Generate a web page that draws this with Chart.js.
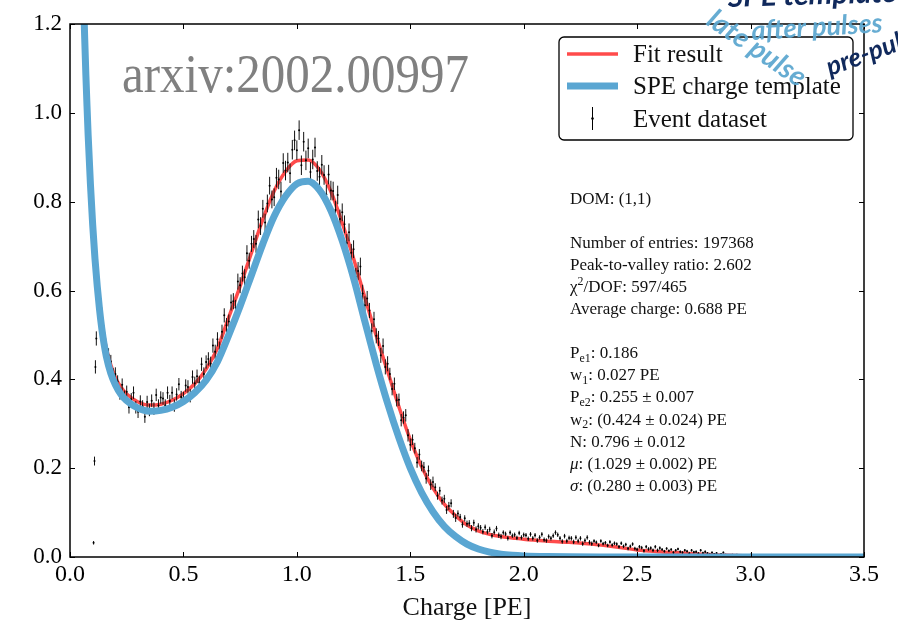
<!DOCTYPE html>
<html>

<head>
  <title>SPE charge fit, DOM (1,1)</title>
  <meta charset="UTF-8">
  <script src="https://cdn.jsdelivr.net/npm/chart.js@4.4.0/dist/chart.umd.min.js"></script>
  <style>
    body { margin: 0; background: #fff; }
  </style>
</head>

<body>
  <canvas id="myChart" width="898" height="627"></canvas>
  <script>
    // SPE charge template (blue)
    var templateCharge = [0.060, 0.065, 0.070, 0.075, 0.080, 0.090, 0.100, 0.110, 0.120, 0.130, 0.140, 0.150, 0.160, 0.180, 0.200, 0.225, 0.250,
      0.30, 0.35, 0.40, 0.45, 0.50, 0.55, 0.60, 0.65, 0.70, 0.75, 0.80, 0.85, 0.90, 0.95, 1.00, 1.05, 1.10, 1.15, 1.20, 1.25, 1.30,
      1.35, 1.40, 1.45, 1.50, 1.55, 1.60, 1.65, 1.70, 1.75, 1.80, 1.85, 1.90, 1.95, 2.00, 2.10, 2.20, 2.40, 2.60, 3.00, 3.50];
    var templateValues = [1.250, 1.165, 1.085, 1.015, 0.950, 0.840, 0.748, 0.672, 0.610, 0.558, 0.515, 0.480, 0.452, 0.413, 0.388, 0.366, 0.352,
      0.335, 0.328, 0.330, 0.337, 0.350, 0.370, 0.398, 0.440, 0.500, 0.565, 0.635, 0.705, 0.767, 0.812, 0.840, 0.846, 0.826, 0.780, 0.712, 0.628, 0.530,
      0.434, 0.346, 0.268, 0.200, 0.145, 0.102, 0.069, 0.046, 0.029, 0.018, 0.011, 0.0065, 0.004, 0.0025, 0.001, 0.0004, 0.0001, 0, 0, 0];

    // Fit result (red)
    var fitCharge = [0.10, 0.11, 0.12, 0.13, 0.14, 0.15, 0.16, 0.18, 0.20, 0.225, 0.25, 0.30, 0.35, 0.40, 0.45, 0.50, 0.55, 0.60, 0.65, 0.70,
      0.75, 0.80, 0.85, 0.90, 0.95, 1.00, 1.05, 1.10, 1.15, 1.20, 1.25, 1.30, 1.35, 1.40, 1.45, 1.50, 1.55, 1.60, 1.65, 1.70, 1.75, 1.80,
      1.85, 1.90, 1.95, 2.00, 2.10, 2.20, 2.30, 2.40, 2.50, 2.60, 2.70, 2.80, 2.90, 3.00, 3.10, 3.20, 3.30, 3.40, 3.50];
    var fitValues = [0.750, 0.680, 0.620, 0.570, 0.530, 0.497, 0.470, 0.432, 0.405, 0.382, 0.367, 0.349, 0.342, 0.344, 0.353, 0.368, 0.390, 0.423, 0.470, 0.540,
      0.610, 0.685, 0.760, 0.824, 0.868, 0.892, 0.894, 0.872, 0.823, 0.752, 0.672, 0.584, 0.498, 0.418, 0.338, 0.264, 0.203, 0.155, 0.119, 0.093, 0.072, 0.059,
      0.051, 0.046, 0.043, 0.040, 0.036, 0.033, 0.029, 0.023, 0.016, 0.012, 0.009, 0.006, 0.004, 0.0025, 0.0015, 0.001, 0.0005, 0.0003, 0.0002];

    // Event dataset (black points with error bars)
    var eventCharge = [0.104, 0.108, 0.112, 0.116,
      0.12, 0.13, 0.14, 0.15, 0.16, 0.17, 0.18, 0.19, 0.20, 0.21,
      0.22, 0.23, 0.24, 0.25, 0.26, 0.27, 0.28, 0.29, 0.30, 0.31,
      0.32, 0.33, 0.34, 0.35, 0.36, 0.37, 0.38, 0.39, 0.40, 0.41,
      0.42, 0.43, 0.44, 0.45, 0.46, 0.47, 0.48, 0.49, 0.50, 0.51,
      0.52, 0.53, 0.54, 0.55, 0.56, 0.57, 0.58, 0.59, 0.60, 0.61,
      0.62, 0.63, 0.64, 0.65, 0.66, 0.67, 0.68, 0.69, 0.70, 0.71,
      0.72, 0.73, 0.74, 0.75, 0.76, 0.77, 0.78, 0.79, 0.80, 0.81,
      0.82, 0.83, 0.84, 0.85, 0.86, 0.87, 0.88, 0.89, 0.90, 0.91,
      0.92, 0.93, 0.94, 0.95, 0.96, 0.97, 0.98, 0.99, 1.00, 1.01,
      1.02, 1.03, 1.04, 1.05, 1.06, 1.07, 1.08, 1.09, 1.10, 1.11,
      1.12, 1.13, 1.14, 1.15, 1.16, 1.17, 1.18, 1.19, 1.20, 1.21,
      1.22, 1.23, 1.24, 1.25, 1.26, 1.27, 1.28, 1.29, 1.30, 1.31,
      1.32, 1.33, 1.34, 1.35, 1.36, 1.37, 1.38, 1.39, 1.40, 1.41,
      1.42, 1.43, 1.44, 1.45, 1.46, 1.47, 1.48, 1.49, 1.50, 1.51,
      1.52, 1.53, 1.54, 1.55, 1.56, 1.57, 1.58, 1.59, 1.60, 1.61,
      1.62, 1.63, 1.64, 1.65, 1.66, 1.67, 1.68, 1.69, 1.70, 1.71,
      1.72, 1.73, 1.74, 1.75, 1.76, 1.77, 1.78, 1.79, 1.80, 1.81,
      1.82, 1.83, 1.84, 1.85, 1.86, 1.87, 1.88, 1.89, 1.90, 1.91,
      1.92, 1.93, 1.94, 1.95, 1.96, 1.97, 1.98, 1.99, 2.00, 2.01,
      2.02, 2.03, 2.04, 2.05, 2.06, 2.07, 2.08, 2.09, 2.10, 2.11,
      2.12, 2.13, 2.14, 2.15, 2.16, 2.17, 2.18, 2.19, 2.20, 2.21,
      2.22, 2.23, 2.24, 2.25, 2.26, 2.27, 2.28, 2.29, 2.30, 2.31,
      2.32, 2.33, 2.34, 2.35, 2.36, 2.37, 2.38, 2.39, 2.40, 2.41,
      2.42, 2.43, 2.44, 2.45, 2.46, 2.47, 2.48, 2.49, 2.50, 2.51,
      2.52, 2.53, 2.54, 2.55, 2.56, 2.57, 2.58, 2.59, 2.60, 2.61,
      2.62, 2.63, 2.64, 2.65, 2.66, 2.67, 2.68, 2.69, 2.70, 2.71,
      2.72, 2.73, 2.74, 2.75, 2.76, 2.77, 2.78, 2.79, 2.80, 2.81,
      2.82, 2.83, 2.84, 2.85, 2.86, 2.87, 2.88, 2.89, 2.90, 2.92,
      2.94, 2.96, 2.98, 3.00, 3.02, 3.04, 3.06, 3.08, 3.10, 3.12,
      3.14, 3.16, 3.18, 3.20, 3.22, 3.24, 3.26, 3.28, 3.30, 3.32,
      3.34, 3.36, 3.38, 3.40, 3.42, 3.44, 3.46, 3.48];
    var eventCounts = [0.032, 0.216, 0.428, 0.492,
      0.600, 0.575, 0.545, 0.505, 0.462, 0.455, 0.440, 0.410, 0.412, 0.395,
      0.368, 0.388, 0.361, 0.372, 0.337, 0.355, 0.370, 0.337, 0.327, 0.350,
      0.339, 0.316, 0.349, 0.331, 0.352, 0.334, 0.365, 0.341, 0.359, 0.357,
      0.341, 0.370, 0.351, 0.370, 0.341, 0.366, 0.389, 0.360, 0.358, 0.386,
      0.383, 0.363, 0.405, 0.391, 0.407, 0.393, 0.434, 0.412, 0.439, 0.446,
      0.435, 0.476, 0.462, 0.490, 0.469, 0.507, 0.544, 0.522, 0.530, 0.573,
      0.576, 0.561, 0.620, 0.612, 0.638, 0.630, 0.684, 0.667, 0.705, 0.716,
      0.705, 0.760, 0.745, 0.784, 0.753, 0.796, 0.836, 0.805, 0.810, 0.854,
      0.850, 0.823, 0.887, 0.870, 0.888, 0.864, 0.917, 0.938, 0.916, 0.961,
      0.882, 0.935, 0.893, 0.920, 0.867, 0.895, 0.922, 0.869, 0.856, 0.883,
      0.860, 0.816, 0.861, 0.825, 0.824, 0.781, 0.815, 0.761, 0.776, 0.749,
      0.707, 0.731, 0.685, 0.693, 0.631, 0.644, 0.654, 0.593, 0.567, 0.582,
      0.555, 0.509, 0.535, 0.498, 0.492, 0.454, 0.475, 0.428, 0.435, 0.412,
      0.378, 0.390, 0.353, 0.354, 0.308, 0.314, 0.319, 0.274, 0.253, 0.264,
      0.245, 0.213, 0.231, 0.205, 0.202, 0.177, 0.194, 0.163, 0.169, 0.157,
      0.138, 0.149, 0.127, 0.131, 0.106, 0.115, 0.121, 0.097, 0.088, 0.098,
      0.090, 0.073, 0.087, 0.075, 0.076, 0.065, 0.077, 0.062, 0.069, 0.066,
      0.057, 0.067, 0.057, 0.062, 0.048, 0.056, 0.064, 0.049, 0.046, 0.055,
      0.052, 0.042, 0.055, 0.048, 0.050, 0.043, 0.054, 0.044, 0.050, 0.049,
      0.041, 0.051, 0.042, 0.049, 0.037, 0.044, 0.051, 0.039, 0.037, 0.046,
      0.042, 0.048, 0.055, 0.050, 0.042, 0.035, 0.047, 0.036, 0.043, 0.042,
      0.034, 0.044, 0.036, 0.042, 0.030, 0.037, 0.044, 0.033, 0.030, 0.036,
      0.033, 0.026, 0.036, 0.030, 0.032, 0.026, 0.034, 0.027, 0.031, 0.029,
      0.023, 0.031, 0.024, 0.028, 0.019, 0.024, 0.029, 0.019, 0.017, 0.023,
      0.021, 0.014, 0.023, 0.018, 0.020, 0.015, 0.023, 0.015, 0.020, 0.017,
      0.013, 0.019, 0.014, 0.017, 0.010, 0.015, 0.018, 0.012, 0.010, 0.015,
      0.013, 0.008, 0.015, 0.011, 0.012, 0.008, 0.015, 0.009, 0.012, 0.009,
      0.006, 0.010, 0.007, 0.009, 0.004, 0.007, 0.010, 0.005, 0.004, 0.005,
      0.005, 0.004, 0.004, 0.005, 0.004, 0.003, 0.003, 0.003, 0.002, 0.002,
      0.002, 0.002, 0.001, 0.002, 0.001, 0.001, 0.001, 0.001, 0.001, 0.001,
      0.001, 0.001, 0.000, 0.001, 0.000, 0.001, 0.000, 0.000];
    var eventErrors = [0.004, 0.010, 0.015, 0.016,
      0.017, 0.017, 0.017, 0.016, 0.016, 0.015, 0.015, 0.015, 0.015, 0.014,
      0.014, 0.014, 0.014, 0.014, 0.014, 0.014, 0.014, 0.014, 0.014, 0.014,
      0.014, 0.014, 0.014, 0.014, 0.014, 0.014, 0.014, 0.014, 0.014, 0.014,
      0.014, 0.014, 0.014, 0.014, 0.014, 0.014, 0.014, 0.014, 0.014, 0.014,
      0.015, 0.015, 0.015, 0.015, 0.015, 0.015, 0.015, 0.015, 0.015, 0.015,
      0.016, 0.016, 0.016, 0.016, 0.016, 0.016, 0.016, 0.016, 0.016, 0.018,
      0.018, 0.018, 0.018, 0.018, 0.018, 0.018, 0.018, 0.018, 0.018, 0.020,
      0.020, 0.020, 0.020, 0.020, 0.020, 0.020, 0.020, 0.020, 0.020, 0.022,
      0.022, 0.022, 0.022, 0.022, 0.022, 0.022, 0.022, 0.022, 0.022, 0.022,
      0.022, 0.022, 0.022, 0.022, 0.022, 0.022, 0.022, 0.022, 0.022, 0.022,
      0.022, 0.022, 0.022, 0.022, 0.021, 0.021, 0.021, 0.021, 0.020, 0.020,
      0.020, 0.020, 0.020, 0.020, 0.020, 0.020, 0.020, 0.020, 0.020, 0.017,
      0.017, 0.017, 0.017, 0.017, 0.017, 0.017, 0.017, 0.017, 0.017, 0.014,
      0.014, 0.014, 0.014, 0.014, 0.014, 0.014, 0.014, 0.014, 0.014, 0.012,
      0.012, 0.012, 0.012, 0.012, 0.012, 0.012, 0.012, 0.012, 0.012, 0.009,
      0.009, 0.009, 0.009, 0.009, 0.009, 0.009, 0.009, 0.009, 0.009, 0.007,
      0.007, 0.007, 0.007, 0.007, 0.007, 0.007, 0.007, 0.007, 0.007, 0.006,
      0.006, 0.006, 0.006, 0.006, 0.006, 0.006, 0.006, 0.006, 0.006, 0.005,
      0.005, 0.005, 0.005, 0.005, 0.005, 0.005, 0.005, 0.005, 0.005, 0.005,
      0.005, 0.005, 0.005, 0.005, 0.005, 0.005, 0.005, 0.005, 0.005, 0.005,
      0.005, 0.005, 0.005, 0.005, 0.005, 0.005, 0.005, 0.005, 0.005, 0.005,
      0.005, 0.005, 0.005, 0.005, 0.005, 0.005, 0.005, 0.005, 0.005, 0.004,
      0.004, 0.004, 0.004, 0.004, 0.004, 0.004, 0.004, 0.004, 0.004, 0.004,
      0.004, 0.004, 0.004, 0.004, 0.004, 0.004, 0.004, 0.004, 0.004, 0.004,
      0.004, 0.004, 0.004, 0.004, 0.004, 0.004, 0.004, 0.004, 0.004, 0.003,
      0.003, 0.003, 0.003, 0.003, 0.003, 0.003, 0.003, 0.003, 0.003, 0.003,
      0.003, 0.003, 0.003, 0.003, 0.003, 0.003, 0.003, 0.003, 0.003, 0.002,
      0.002, 0.002, 0.002, 0.002, 0.002, 0.002, 0.002, 0.002, 0.002, 0.002,
      0.002, 0.002, 0.002, 0.002, 0.002, 0.001, 0.001, 0.001, 0.001, 0.001,
      0.001, 0.001, 0.001, 0.001, 0.001, 0.001, 0.001, 0.001, 0.001, 0.001,
      0.001, 0.001, 0.001, 0.001, 0.001, 0.001, 0.001, 0.001];

    // text box on the right side of the plot
    var infoLines = [
      [{ t: 'DOM: (1,1)' }],
      [],
      [{ t: 'Number of entries: 197368' }],
      [{ t: 'Peak-to-valley ratio: 2.602' }],
      [{ t: 'χ' }, { t: '2', sup: true }, { t: '/DOF: 597/465' }],
      [{ t: 'Average charge: 0.688 PE' }],
      [],
      [{ t: 'P' }, { t: 'e1', sub: true }, { t: ': 0.186' }],
      [{ t: 'w' }, { t: '1', sub: true }, { t: ': 0.027 PE' }],
      [{ t: 'P' }, { t: 'e2', sub: true }, { t: ': 0.255 ± 0.007' }],
      [{ t: 'w' }, { t: '2', sub: true }, { t: ': (0.424 ± 0.024) PE' }],
      [{ t: 'N: 0.796 ± 0.012' }],
      [{ t: 'μ', it: true }, { t: ': (1.029 ± 0.002) PE' }],
      [{ t: 'σ', it: true }, { t: ': (0.280 ± 0.003) PE' }]
    ];

    var SERIF = '"Liberation Serif", "DejaVu Serif", serif';
    var RED = 'rgba(255, 55, 55, 0.9)';
    var BLUE = '#5aa6d2';

    function toPoints(xs, ys) {
      return xs.map(function (x, i) { return { x: x, y: ys[i] }; });
    }

    function drawRich(ctx, parts, x, y, size) {
      parts.forEach(function (p) {
        var fs = size, dy = 0;
        if (p.sub) { fs = size * 0.7; dy = size * 0.22; }
        if (p.sup) { fs = size * 0.7; dy = -size * 0.4; }
        ctx.font = (p.it ? 'italic ' : '') + fs + 'px ' + SERIF;
        ctx.fillText(p.t, x, y + dy);
        x += ctx.measureText(p.t).width;
      });
    }

    // vertical error bars, drawn right after the red fit so they sit on top of it
    var errorBars = {
      id: 'errorBars',
      afterDatasetDraw: function (chart, args) {
        if (args.index !== 0) return;
        var ctx = chart.ctx, sx = chart.scales.x, sy = chart.scales.y, a = chart.chartArea;
        ctx.save();
        ctx.beginPath();
        ctx.rect(a.left, a.top, a.right - a.left, a.bottom - a.top);
        ctx.clip();
        ctx.strokeStyle = '#111';
        ctx.lineWidth = 1;
        ctx.beginPath();
        for (var i = 0; i < eventCharge.length; i++) {
          var px = sx.getPixelForValue(eventCharge[i]);
          ctx.moveTo(px, sy.getPixelForValue(eventCounts[i] - eventErrors[i]));
          ctx.lineTo(px, sy.getPixelForValue(eventCounts[i] + eventErrors[i]));
        }
        ctx.stroke();
        ctx.restore();
      }
    };

    // box around the plot with inward ticks on all four sides
    var frame = {
      id: 'frame',
      afterDatasetsDraw: function (chart) {
        var ctx = chart.ctx, a = chart.chartArea, sx = chart.scales.x, sy = chart.scales.y;
        var tl = 5;
        ctx.save();
        ctx.strokeStyle = '#000';
        ctx.lineWidth = 1.5;
        ctx.strokeRect(a.left, a.top, a.right - a.left, a.bottom - a.top);
        ctx.lineWidth = 1;
        ctx.beginPath();
        sx.ticks.forEach(function (t) {
          var px = Math.round(sx.getPixelForValue(t.value)) + 0.5;
          ctx.moveTo(px, a.bottom); ctx.lineTo(px, a.bottom - tl);
          ctx.moveTo(px, a.top); ctx.lineTo(px, a.top + tl);
        });
        sy.ticks.forEach(function (t) {
          var py = Math.round(sy.getPixelForValue(t.value)) + 0.5;
          ctx.moveTo(a.left, py); ctx.lineTo(a.left + tl, py);
          ctx.moveTo(a.right, py); ctx.lineTo(a.right - tl, py);
        });
        ctx.stroke();
        ctx.restore();
      }
    };

    // legend box, fit parameters, watermark and the hand written notes
    var overlay = {
      id: 'overlay',
      afterDraw: function (chart) {
        var ctx = chart.ctx;
        ctx.save();

        // arxiv label
        ctx.fillStyle = '#808080';
        ctx.font = '49px ' + SERIF;
        ctx.textBaseline = 'alphabetic';
        ctx.save();
        ctx.translate(122, 92);
        ctx.scale(1, 1.12);
        ctx.fillText('arxiv:2002.00997', 0, 0);
        ctx.restore();

        // legend
        var bx = 559, by = 37, bw = 294, bh = 103;
        ctx.beginPath();
        ctx.roundRect(bx, by, bw, bh, 5);
        ctx.fillStyle = '#fff';
        ctx.fill();
        ctx.strokeStyle = '#000';
        ctx.lineWidth = 1.3;
        ctx.stroke();
        var ds = chart.data.datasets;
        ctx.lineCap = 'butt';
        ctx.strokeStyle = RED; ctx.lineWidth = 3.5;
        ctx.beginPath(); ctx.moveTo(567, 54); ctx.lineTo(618, 54); ctx.stroke();
        ctx.strokeStyle = BLUE; ctx.lineWidth = 7;
        ctx.beginPath(); ctx.moveTo(567, 86); ctx.lineTo(618, 86); ctx.stroke();
        ctx.strokeStyle = '#000'; ctx.lineWidth = 1;
        ctx.beginPath(); ctx.moveTo(592.5, 107); ctx.lineTo(592.5, 130); ctx.stroke();
        ctx.fillStyle = '#000';
        ctx.beginPath(); ctx.arc(592.5, 118.5, 1.3, 0, Math.PI * 2); ctx.fill();
        ctx.fillStyle = '#111';
        ctx.font = '25px ' + SERIF;
        ctx.fillText(ds[0].label, 633, 62);
        ctx.fillText(ds[1].label, 633, 94);
        ctx.fillText(ds[2].label, 633, 127);

        // fit parameters
        ctx.fillStyle = '#111';
        infoLines.forEach(function (line, i) {
          drawRich(ctx, line, 570, 203.5 + i * 22.1, 17);
        });

        // hand written notes in the upper right corner
        function note(text, x, y, rot, size, color) {
          ctx.save();
          ctx.translate(x, y);
          ctx.rotate(rot);
          ctx.font = 'italic bold ' + size + 'px Lato, "DejaVu Sans", sans-serif';
          ctx.fillStyle = color;
          ctx.fillText(text, 0, 0);
          ctx.restore();
        }
        note('SPE template', 728, 7, -0.03, 30, '#10295c');
        note('late pulse', 705, 24, 0.6, 28, 'rgba(94, 168, 208, 0.95)');
        note('after pulses', 752, 40, -0.06, 27, 'rgba(94, 168, 208, 0.95)');
        note('pre-pulses', 830, 76, -0.35, 26, '#10295c');

        ctx.restore();
      }
    };

    var ctx = document.getElementById('myChart').getContext('2d');
    var chart = new Chart(ctx, {
      type: 'scatter',
      data: {
        datasets: [{
          label: 'Fit result',
          data: toPoints(fitCharge, fitValues),
          showLine: true,
          borderColor: RED,
          borderWidth: 3.5,
          pointRadius: 0,
          cubicInterpolationMode: 'monotone',
          clip: 0,
          order: 2
        }, {
          label: 'SPE charge template',
          data: toPoints(templateCharge, templateValues),
          showLine: true,
          borderColor: BLUE,
          borderWidth: 7,
          pointRadius: 0,
          cubicInterpolationMode: 'monotone',
          clip: 0,
          order: 0
        }, {
          label: 'Event dataset',
          data: toPoints(eventCharge, eventCounts),
          showLine: false,
          pointRadius: 1,
          pointBorderWidth: 0,
          backgroundColor: '#000',
          clip: 0,
          order: 1
        }]
      },
      options: {
        responsive: false,
        animation: false,
        devicePixelRatio: 1,
        layout: { padding: { top: 24, right: 34, left: 0, bottom: 0 } },
        plugins: {
          legend: { display: false },
          tooltip: { enabled: false }
        },
        scales: {
          x: {
            type: 'linear',
            min: 0,
            max: 3.5,
            grid: { display: false, drawTicks: false },
            border: { display: false },
            ticks: {
              stepSize: 0.5,
              padding: 3,
              color: '#000',
              font: { family: SERIF, size: 24 },
              callback: function (v) { return v.toFixed(1); }
            },
            title: {
              display: true,
              text: 'Charge [PE]',
              color: '#111',
              font: { family: SERIF, size: 26 },
              padding: { top: 0, bottom: 3 }
            },
            afterFit: function (scale) { scale.height = 70; }
          },
          y: {
            min: 0,
            max: 1.2,
            grid: { display: false, drawTicks: false },
            border: { display: false },
            ticks: {
              stepSize: 0.2,
              padding: 8,
              color: '#000',
              font: { family: SERIF, size: 23 },
              callback: function (v) { return v.toFixed(1); }
            },
            afterFit: function (scale) { scale.width = 70; }
          }
        }
      },
      plugins: [errorBars, frame, overlay]
    });
  </script>
</body>

</html>
